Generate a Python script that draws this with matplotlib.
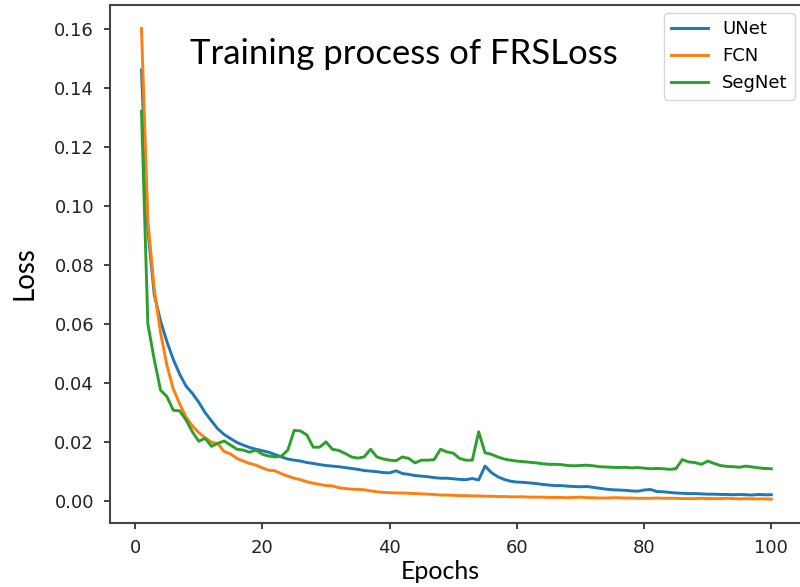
import numpy as np
import matplotlib
matplotlib.use("Agg")
import matplotlib.pyplot as plt

# Loss per epoch (epochs 1..100)
epochs = np.arange(1, 101)

unet_loss = [
    0.146, 0.092, 0.070, 0.061, 0.054, 0.048, 0.043, 0.039, 0.0365, 0.0335,
    0.030, 0.0272, 0.0245, 0.0226, 0.0212, 0.0199, 0.0190, 0.0182, 0.0176, 0.0171,
    0.0166, 0.0158, 0.0150, 0.0143, 0.0139, 0.0136, 0.0131, 0.0128, 0.0124, 0.0121,
    0.0119, 0.0117, 0.0114, 0.0111, 0.0108, 0.0104, 0.0102, 0.0100, 0.0097, 0.0096,
    0.0103, 0.0094, 0.0091, 0.0087, 0.0085, 0.0083, 0.0080, 0.0078, 0.0078, 0.0076,
    0.0074, 0.0073, 0.0077, 0.0072, 0.0119, 0.0097, 0.0083, 0.0074, 0.0068, 0.0065,
    0.0064, 0.0062, 0.0060, 0.0057, 0.0055, 0.0053, 0.0053, 0.0051, 0.0050, 0.0049,
    0.0050, 0.0047, 0.0044, 0.0041, 0.0039, 0.0038, 0.0037, 0.0035, 0.0034, 0.0038,
    0.0040, 0.0033, 0.0032, 0.0030, 0.0028, 0.0027, 0.0026, 0.0026, 0.0025, 0.0024,
    0.0024, 0.0023, 0.0023, 0.0022, 0.0023, 0.0022, 0.0021, 0.0023, 0.0022, 0.0022,
]

fcn_loss = [
    0.160, 0.095, 0.072, 0.057, 0.046, 0.038, 0.033, 0.0285, 0.0255, 0.0232,
    0.0215, 0.0200, 0.0195, 0.0168, 0.0160, 0.0145, 0.0136, 0.0128, 0.0122, 0.0113,
    0.0105, 0.0103, 0.0093, 0.0085, 0.0078, 0.0073, 0.0066, 0.0061, 0.0057, 0.0053,
    0.0052, 0.0046, 0.0043, 0.0041, 0.0040, 0.0039, 0.0035, 0.0032, 0.0030, 0.0029,
    0.0028, 0.0028, 0.0027, 0.0026, 0.0025, 0.0024, 0.0023, 0.0021, 0.0021, 0.0020,
    0.0019, 0.0019, 0.0018, 0.0018, 0.0017, 0.0017, 0.0016, 0.0016, 0.0015, 0.0015,
    0.0015, 0.0014, 0.0014, 0.0014, 0.0013, 0.0013, 0.0013, 0.0012, 0.0013, 0.0014,
    0.0012, 0.0012, 0.0011, 0.0011, 0.0012, 0.0012, 0.0011, 0.0011, 0.0010, 0.0010,
    0.0010, 0.0011, 0.0010, 0.0010, 0.0010, 0.0009, 0.0009, 0.0009, 0.0010, 0.0009,
    0.0009, 0.0009, 0.0010, 0.0009, 0.0008, 0.0009, 0.0008, 0.0008, 0.0008, 0.0007,
]

segnet_loss = [
    0.132, 0.060, 0.048, 0.0376, 0.0354, 0.0308, 0.0306, 0.0275, 0.0235, 0.0203,
    0.0213, 0.0186, 0.0196, 0.0204, 0.0190, 0.0176, 0.0173, 0.0166, 0.0173, 0.0159,
    0.0153, 0.0150, 0.0153, 0.0173, 0.0240, 0.0238, 0.0224, 0.0183, 0.0183, 0.0201,
    0.0176, 0.0172, 0.0162, 0.0150, 0.0146, 0.0150, 0.0176, 0.0150, 0.0143, 0.0139,
    0.0137, 0.0150, 0.0145, 0.0130, 0.0139, 0.0139, 0.0141, 0.0176, 0.0167, 0.0163,
    0.0145, 0.0139, 0.0139, 0.0235, 0.0164, 0.0159, 0.0150, 0.0143, 0.0139, 0.0136,
    0.0134, 0.0132, 0.0130, 0.0127, 0.0125, 0.0125, 0.0124, 0.0121, 0.0120, 0.0121,
    0.0122, 0.0120, 0.0117, 0.0116, 0.0115, 0.0114, 0.0115, 0.0113, 0.0114, 0.0112,
    0.0110, 0.0111, 0.0110, 0.0108, 0.0110, 0.0141, 0.0133, 0.0131, 0.0125, 0.0136,
    0.0128, 0.0121, 0.0118, 0.0117, 0.0115, 0.0119, 0.0116, 0.0113, 0.0111, 0.0110,
]

fig = plt.figure(figsize=(8, 5.87), dpi=100)
# the reference is cropped on the right, so the axes run past the figure edge
ax = fig.add_axes([0.1375, 0.1095, 0.866, 0.882])
ax.spines["right"].set_visible(False)

lw = 2.1
ax.plot(epochs, unet_loss, color="tab:blue", linewidth=lw, label="UNet")
ax.plot(epochs, fcn_loss, color="tab:orange", linewidth=lw, label="FCN")
ax.plot(epochs, segnet_loss, color="tab:green", linewidth=lw, label="SegNet")

ax.set_xlim(-3.95, 104.95)
ax.set_xticks([0, 20, 40, 60, 80, 100])
ax.set_yticks(np.arange(0, 0.161, 0.02))
ax.yaxis.set_major_formatter(plt.FormatStrFormatter("%.2f"))
ax.tick_params(labelsize=13, length=4.5, width=1.3, pad=7, colors="#333333", labelcolor="#222222")
for sp in ax.spines.values():
    sp.set_linewidth(1.5)
    sp.set_color("#444444")

ax.legend(loc="upper right", fontsize=13, borderaxespad=0.45)

# title sits inside the axes, in a Calibri-like face
ax.text(0.424, 0.905, "Training process of FRSLoss", transform=ax.transAxes,
        ha="center", va="center", fontsize=25, family="Lato")
fig.text(0.551, 0.027, "Epochs", ha="center", va="center", fontsize=18, family="Lato")
fig.text(0.031, 0.535, "Loss", ha="center", va="center", rotation=90, fontsize=20, family="Lato")

fig.savefig("out.png", dpi=100)
